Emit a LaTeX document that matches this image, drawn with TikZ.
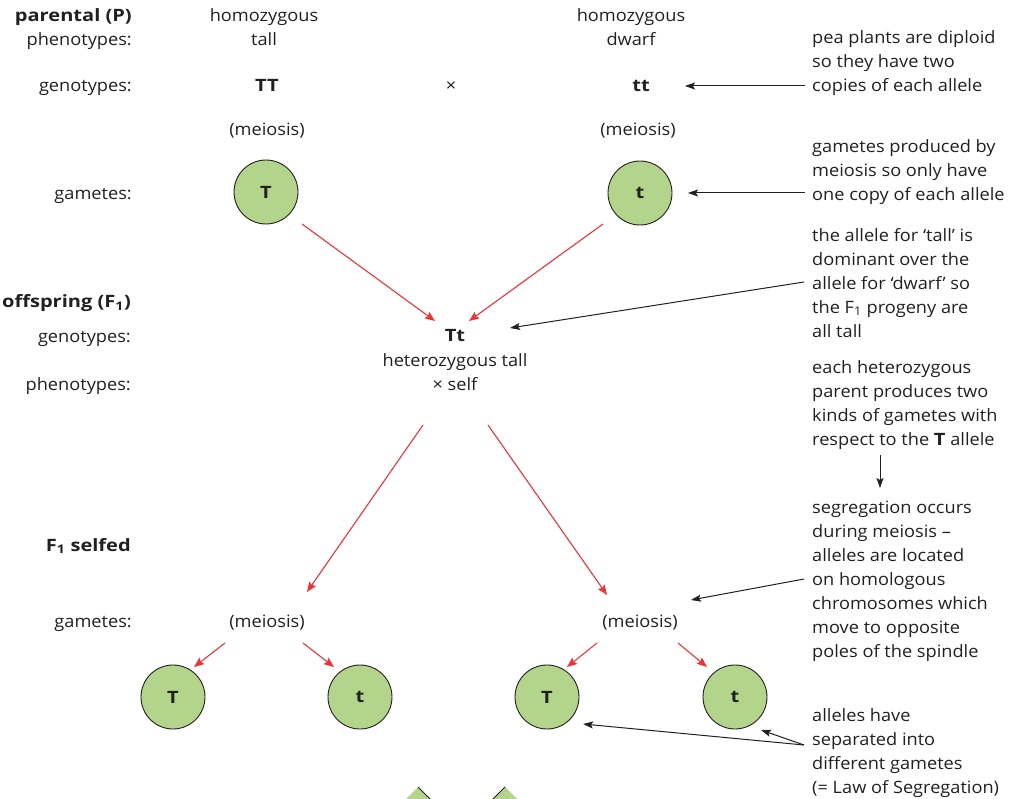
\documentclass[tikz,border=0pt]{standalone}
\usepackage{fontspec}
\setmainfont{Open Sans}[FakeStretch=1.07, BoldFeatures={FakeStretch=1.18}]
\usetikzlibrary{arrows.meta}
\definecolor{txt}{HTML}{231F20}
\definecolor{gam}{HTML}{B3D48B}
\definecolor{redarr}{HTML}{EE3236}
\begin{document}
\begin{tikzpicture}[x=1pt,y=-1pt,
  every node/.style={text=txt, font=\fontsize{17}{24}\selectfont, inner sep=0pt},
  lbl/.style={anchor=base east},
  ctr/.style={anchor=base},
  bld/.style={anchor=base, font=\fontsize{17}{24}\selectfont\bfseries},
  note/.style={anchor=north west, align=left},
  gamete/.style={circle, draw=txt, fill=gam, line width=0.9pt, minimum size=64pt, font=\fontsize{17}{24}\selectfont\bfseries},
  redarrow/.style={draw=redarr, line width=1.1pt, -{Stealth[length=10pt,width=8pt,inset=1.5pt]}},
  blackarrow/.style={draw=txt, line width=1pt, -{Stealth[length=10pt,width=7pt,inset=2pt]}},
]
\useasboundingbox (0,0) rectangle (1018,799);

% left labels
\node[lbl, font=\fontsize{17}{24}\selectfont\bfseries] (lparent) at (132,22) {parental (P)};
\node[lbl] (lpheno) at (132,46) {phenotypes:};
\node[lbl] (lgeno) at (132,92) {genotypes:};
\node[lbl] (lgam) at (132,200) {gametes:};
\node[lbl, font=\fontsize{17}{24}\selectfont\bfseries] (loff) at (131,308) {offspring (F\textsubscript{1})};
\node[lbl] (lgeno2) at (131,343) {genotypes:};
\node[lbl] (lpheno2) at (131,391) {phenotypes:};
\node[lbl, font=\fontsize{17}{24}\selectfont\bfseries] (lself) at (131,551) {F\textsubscript{1} selfed};
\node[lbl] (lgam2) at (132,627) {gametes:};

% parental columns
\node[ctr] (hom1) at (264,22) {homozygous};
\node[ctr] (tall) at (264,46) {tall};
\node[bld] (TT) at (267,92) {TT};
\node[ctr] (cross) at (451,92) {×};
\node[ctr] (mei1) at (267,136) {(meiosis)};
\node[gamete] (gT1) at (266,192) {T};

\node[ctr] (hom2) at (631,22) {homozygous};
\node[ctr] (dwarf) at (631,46) {dwarf};
\node[bld] (tt) at (641,92) {tt};
\node[ctr] (mei2) at (638,136) {(meiosis)};
\node[gamete] (gt1) at (640,193) {t};

% F1
\node[bld] (Tt) at (455,342) {Tt};
\node[ctr] (het) at (455,367) {heterozygous tall};
\node[ctr] (self) at (455,391) {× self};

% F1 selfed gametes
\node[ctr] (mei3) at (267,627) {(meiosis)};
\node[ctr] (mei4) at (640,627) {(meiosis)};
\node[gamete] (c1) at (173,697) {T};
\node[gamete] (c2) at (360,697) {t};
\node[gamete] (c3) at (547,697) {T};
\node[gamete] (c4) at (735,697) {t};

% notes
\node[note] (npea) at (812,43-16.8) {\strut pea plants are diploid\\so they have two\\copies of each allele};
\node[note] (ngam) at (812,152-16.8) {\strut gametes produced by\\meiosis so only have\\one copy of each allele};
\node[note] (ntall) at (812,241-16.8) {\strut the allele for ‘tall’ is\\dominant over the\\allele for ‘dwarf’ so\\the F\textsubscript{1} progeny are\\all tall};
\node[note] (nhet) at (812,373-16.8) {\strut each heterozygous\\parent produces two\\kinds of gametes with\\respect to the \textbf{T} allele};
\node[note] (nseg) at (812,513-16.8) {\strut segregation occurs\\during meiosis –\\alleles are located\\on homologous\\chromosomes which\\move to opposite\\poles of the spindle};
\node[note] (nall) at (812,721-16.8) {\strut alleles have\\separated into\\different gametes\\(= Law of Segregation)};

% coordinates for arrow ends
\coordinate (r1s) at (302,224); \coordinate (r1e) at (435,321);
\coordinate (r2s) at (603,224); \coordinate (r2e) at (469,321);
\coordinate (r3s) at (423,425); \coordinate (r3e) at (307,592);
\coordinate (r4s) at (488,425); \coordinate (r4e) at (607,595);
\coordinate (r5s) at (225,643); \coordinate (r5e) at (194,667);
\coordinate (r6s) at (303,643); \coordinate (r6e) at (334,667);
\coordinate (r7s) at (597,643); \coordinate (r7e) at (567,667);
\coordinate (r8s) at (678,643); \coordinate (r8e) at (707,667);

\coordinate (cpea) at (805,86); \coordinate (epea) at (685,86);
\coordinate (cgam) at (805,193); \coordinate (egam) at (688,193);
\coordinate (ctall) at (804,282); \coordinate (etall) at (510,328);
\coordinate (cd1) at (880,455); \coordinate (cd2) at (880,488);
\coordinate (cseg) at (804,579); \coordinate (eseg) at (691,600);
\coordinate (call) at (804,745); \coordinate (eall1) at (583,724); \coordinate (eall2) at (761,730);

% red arrows
\draw[redarrow] (r1s) -- (r1e);
\draw[redarrow] (r2s) -- (r2e);
\draw[redarrow] (r3s) -- (r3e);
\draw[redarrow] (r4s) -- (r4e);
\draw[redarrow] (r5s) -- (r5e);
\draw[redarrow] (r6s) -- (r6e);
\draw[redarrow] (r7s) -- (r7e);
\draw[redarrow] (r8s) -- (r8e);

% black arrows
\draw[blackarrow] (cpea) -- (epea);
\draw[blackarrow] (cgam) -- (egam);
\draw[blackarrow] (ctall) -- (etall);
\draw[blackarrow] (cd1) -- (cd2);
\draw[blackarrow] (cseg) -- (eseg);
\draw[blackarrow] (call) -- (eall1);
\draw[blackarrow] (call) -- (eall2);

% cut-off shapes at the bottom
\begin{scope}
\clip (0,0) rectangle (1018,799);
\fill[gam] (418,787) -- (448,817) -- (418,847) -- (388,817) -- cycle;
\draw[txt, line width=1pt] (418,787) -- (448,817);
\fill[gam] (505,787) -- (535,817) -- (505,847) -- (475,817) -- cycle;
\draw[txt, line width=1pt] (505,787) -- (475,817);
\end{scope}
\end{tikzpicture}
\end{document}
